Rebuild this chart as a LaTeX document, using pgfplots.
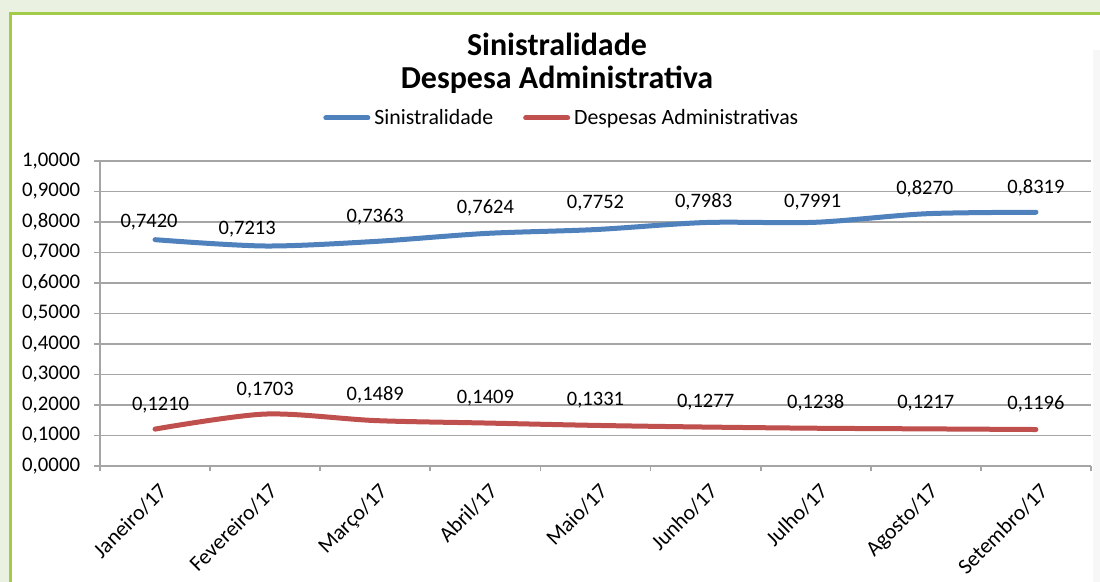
\documentclass[border=0pt]{standalone}
\usepackage{fontspec}
\setmainfont{Carlito}
\usepackage{pgfplots}
\pgfplotsset{compat=1.18}

\definecolor{sinistro}{HTML}{4F81BD}
\definecolor{despesa}{HTML}{C0504D}
\definecolor{moldura}{HTML}{A2CB48}
\definecolor{fundo}{HTML}{EAF1E0}
\definecolor{grade}{HTML}{A5A5A5}

% deslocamento dos rotulos de dados (px), por mes
\def\dxS{{-6,-18,0,0,0,-2,-3,-1,0}}
\def\dyS{{12,12,19,19.5,20.6,15,14.6,18.8,19}}
\def\dxD{{5.5,0,0,0,0,0,0,0,0}}
\def\dyD{{19,19,20,19.7,20.4,19.7,19.9,20.6,20.2}}

\begin{document}
\begin{tikzpicture}
\useasboundingbox (0,0) rectangle (550pt,-291pt);
\fill[fundo] (0,0) rectangle (550pt,-291pt);
\fill[white] (5.25pt,-7pt) rectangle (550pt,-291pt);
\fill[black!3] (546.5pt,-25pt) rectangle (550pt,-291pt);
\draw[moldura, line width=1.5pt] (5.25pt,-292pt) -- (5.25pt,-7pt) -- (551pt,-7pt);

\node[anchor=base, font=\bfseries\fontsize{16}{18}\selectfont] at (278.5pt,-28pt) {Sinistralidade};
\node[anchor=base, font=\bfseries\fontsize{16}{18}\selectfont] at (278.5pt,-44.5pt) {Despesa Administrativa};

\begin{axis}[
  at={(50pt,-233pt)}, anchor=south west,
  scale only axis, width=495.5pt, height=152.5pt,
  clip=false,
  xmin=-0.5, xmax=8.5, ymin=0, ymax=1,
  axis x line*=bottom, axis y line*=left,
  axis line style={grade, line width=0.9pt, -},
  xtick={-0.5,0.5,...,8.5},
  x tick label as interval,
  xticklabels={Janeiro/17,Fevereiro/17,Março/17,Abril/17,Maio/17,Junho/17,Julho/17,Agosto/17,Setembro/17},
  ytick={0,0.1,0.2,0.3,0.4,0.5,0.6,0.7,0.8,0.9,1},
  tick align=outside,
  major tick length=2.75pt,
  tick style={grade, line width=0.9pt},
  ymajorgrids, grid style={grade, line width=0.9pt},
  xticklabel style={font=\fontsize{10.9}{12}\selectfont, xshift=1.25pt, yshift=-5pt,
    rotate=45, anchor=north east, inner sep=0pt},
  yticklabel style={font=\fontsize{10.4}{12}\selectfont, anchor=east, inner sep=0pt, xshift=-7pt,
    /pgf/number format/fixed, /pgf/number format/fixed zerofill,
    /pgf/number format/precision=4, /pgf/number format/use comma,
    /pgf/number format/assume math mode=true},
  legend style={at={(0.467,1.141)}, anchor=center, draw=none, fill=none,
    font=\fontsize{10.9}{12}\selectfont, legend columns=2,
    /tikz/every even column/.append style={column sep=13pt}},
  legend image code/.code={\draw[#1, line width=2.5pt] (0pt,0pt) -- (21pt,0pt);},
  nodes near coords={\pgfmathprintnumber[fixed,fixed zerofill,precision=4,use comma,assume math mode=true]{\pgfplotspointmeta}},
]
\addplot[sinistro, line width=2.5pt, smooth, line cap=round,
  every node near coord/.append style={font=\fontsize{10.25}{12}\selectfont, text=black,
    anchor=base, inner sep=0pt, xshift={\dxS[\coordindex]*0.5pt}, yshift={\dyS[\coordindex]*0.5pt}}]
  coordinates {(0,0.7420)(1,0.7213)(2,0.7363)(3,0.7624)(4,0.7752)(5,0.7983)(6,0.7991)(7,0.8270)(8,0.8319)};
\addlegendentry{Sinistralidade}
\addplot[despesa, line width=2.5pt, smooth, line cap=round,
  every node near coord/.append style={font=\fontsize{10.25}{12}\selectfont, text=black,
    anchor=base, inner sep=0pt, xshift={\dxD[\coordindex]*0.5pt}, yshift={\dyD[\coordindex]*0.5pt}}]
  coordinates {(0,0.1210)(1,0.1703)(2,0.1489)(3,0.1409)(4,0.1331)(5,0.1277)(6,0.1238)(7,0.1217)(8,0.1196)};
\addlegendentry{Despesas Administrativas}
\end{axis}
\end{tikzpicture}
\end{document}
